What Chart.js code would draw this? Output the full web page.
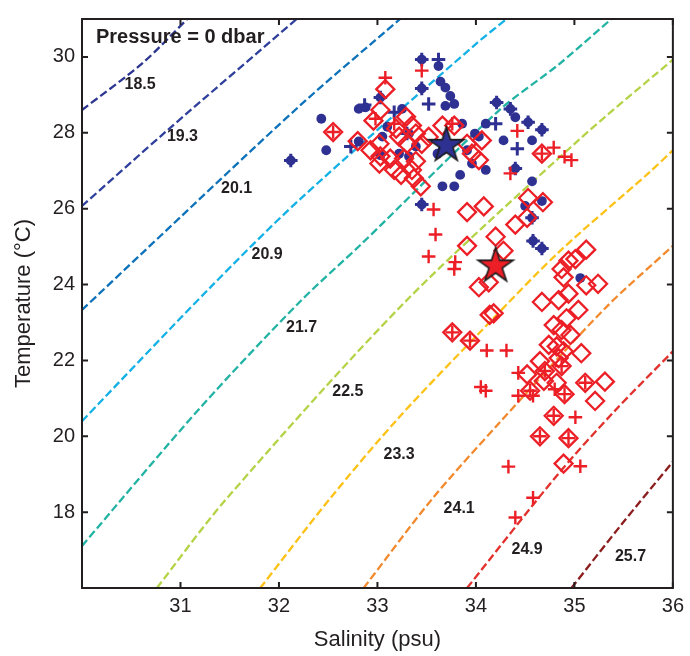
<!DOCTYPE html>
<html>
<head>
<meta charset="utf-8">
<script src="https://cdn.jsdelivr.net/npm/chart.js@4.4.1/dist/chart.umd.min.js"></script>
<style>
  html,body{margin:0;padding:0;background:#fff}
  canvas{display:block}
</style>
</head>
<body>
<canvas id="ts" width="690" height="656"></canvas>
<script>
/* T-S diagram, surface isopycnals + station samples */

/* ── Axis ticks ── */
const xTicks=[31,32,33,34,35,36];
const yTicks=[18,20,22,24,26,28,30];

/* ── Isopycnals (sigma-t) as [S,T] ── */
const sigmaLabels=['18.5','19.3','20.1','20.9','21.7','22.5','23.3','24.1','24.9','25.7'];
const sigmaColors=['#2b3590','#2f3f9c','#0d72ba','#14b1e6','#22b3a4','#b5d347','#fcc217','#f2892d','#e2302c','#8c1d1d'];
const sig185=[[30,28.6],[30.62,29.85],[31.07,31]];
const sig193=[[30,26.07],[30.86,28.05],[32.18,31]];
const sig201=[[30,23.33],[30.62,24.85],[32.21,28.71],[33.23,31]];
const sig209=[[30,20.4],[31.29,23.89],[32.21,26.24],[33.99,30.32],[34.31,31]];
const sig217=[[30,17.11],[31.2,20.75],[32.21,23.54],[32.85,25.1],[34.23,28.58],[34.84,29.8],[35.375,31]];
const sig225=[[30.76,16],[31.46,18.33],[33.28,23.54],[35.04,27.8],[36,29.93]];
const sig233=[[31.81,16],[32.51,18.33],[33.22,20.5],[34.1,22.9],[34.84,24.85],[35.75,26.93],[36,27.54]];
const sig241=[[32.86,16],[33.55,18.33],[34.23,20.33],[35.31,23.37],[36,25.02]];
const sig249=[[33.91,16],[34.84,19.02],[35.41,20.67],[36,22.24]];
const sig257=[[34.97,16],[35.48,17.68],[36,19.33]];
const isopycnals=[sig185,sig193,sig201,sig209,sig217,sig225,sig233,sig241,sig249,sig257];
const labelS=[30.59,31.02,31.57,31.88,32.23,32.70,33.22,33.83,34.52,35.57];
const labelT=[29.28,27.90,26.54,24.79,22.86,21.17,19.52,18.09,17.00,16.83];

/* ── Samples [S,T] ── */
const blueDots=[
  [33.62,29.76],[33.64,29.35],[33.69,29.19],[33.74,28.97],[33.69,28.71],[33.78,28.76],[32.81,28.63],[32.88,28.67],
  [33.25,28.63],[32.43,28.37],[32.48,27.54],[32.81,27.77],[33.05,27.90],[33.10,28.16],[33.32,27.98],[33.39,27.64],
  [33.61,27.45],[33.66,27.54],[33.86,28.24],[33.91,27.54],[33.99,27.98],[34.10,28.24],[34.03,27.90],[33.84,26.89],
  [33.66,26.59],[33.78,26.59],[34.10,27.02],[33.96,27.19],[34.28,27.80],[34.40,28.41],[34.57,27.80],[34.57,26.72],
  [34.50,26.07],[35.06,24.17],[34.67,26.20],[33.03,27.41],[33.22,27.45],[33.32,27.38],
  [33.45,29.93],[33.45,29.17],[33.03,28.93],[34.21,28.80],[34.35,28.63],[34.53,28.28],[34.67,28.08],[34.40,27.06],
  [33.45,26.11],[34.57,25.76],[34.58,25.15],[34.67,24.95],[32.12,27.27]
];
const blueCrosses=[
  [33.45,29.93],[33.62,29.93],[33.45,29.17],[33.52,28.76],[33.03,28.93],[32.87,28.73],[33.17,28.54],[33.30,27.98],
  [34.21,28.80],[34.35,28.63],[34.53,28.28],[34.67,28.08],[34.42,27.58],[34.20,28.24],[34.40,27.06],[33.45,26.11],
  [34.57,25.76],[34.58,25.15],[34.67,24.95],[32.12,27.27],[32.73,27.64]
];
const redCrosses=[
  [33.45,29.64],[33.08,29.45],[32.98,28.37],[33.76,28.24],[34.42,28.05],[34.79,27.61],[34.90,27.37],[34.97,27.28],
  [34.35,26.93],[33.57,25.98],[33.59,25.32],[33.52,24.74],[33.79,24.59],[33.78,24.41],[34.11,22.26],[34.31,22.26],
  [34.43,21.67],[34.05,21.30],[34.10,21.20],[34.43,21.07],[34.58,21.07],[34.80,21.24],[35.01,20.50],[34.33,19.20],
  [35.06,19.21],[34.58,18.38],[34.40,17.86],[32.55,28.02],[34.67,27.45],[33.76,22.74],[33.94,22.52],[34.70,21.72],
  [34.87,21.85],[34.55,21.20],[34.90,21.11],[35.11,21.41],[34.79,20.54],[34.65,20.00],[34.94,19.95],[33.17,28.24]
];
const redDiamonds=[
  [33.08,29.15],[33.03,28.60],[32.96,28.32],[32.55,28.02],[32.80,27.78],[32.93,27.54],[33.02,27.71],[33.03,27.38],
  [33.02,27.19],[33.13,27.32],[33.19,28.11],[33.22,27.90],[33.29,28.42],[33.35,28.19],[33.39,27.98],[33.30,27.71],
  [33.27,27.32],[33.17,27.02],[33.24,26.89],[33.35,27.02],[33.37,26.80],[33.44,26.59],[33.39,27.25],[33.45,27.71],
  [33.52,27.89],[33.66,28.19],[33.78,28.19],[33.91,27.71],[34.03,27.28],[33.96,27.45],[34.06,27.80],[34.67,27.45],
  [33.91,25.91],[34.08,26.06],[34.53,26.28],[34.68,26.17],[34.40,25.58],[34.52,25.76],[34.20,25.26],[33.91,25.02],
  [34.28,24.89],[34.03,23.93],[34.13,24.06],[34.14,23.20],[34.18,23.24],[33.76,22.74],[33.94,22.52],[34.87,24.41],
  [34.89,24.19],[34.94,24.63],[35.01,24.67],[35.12,24.92],[35.12,23.98],[35.24,24.02],[34.67,23.54],[34.84,23.59],
  [34.94,23.76],[35.04,23.33],[34.92,23.11],[34.79,22.93],[34.87,22.80],[34.96,22.67],[34.74,22.41],[34.82,22.37],
  [34.89,22.24],[35.07,22.19],[34.65,21.98],[34.70,21.72],[34.87,21.85],[34.84,22.06],[34.52,21.63],[34.69,21.46],
  [34.82,21.41],[34.55,21.20],[34.90,21.11],[35.11,21.41],[35.31,21.44],[35.21,20.93],[34.79,20.54],[34.65,20.00],
  [34.94,19.95],[34.89,19.28]
];
const blueStar=[[33.70,27.71]];
const redStar=[[34.20,24.53]];

/* ── Styling ── */
const FONT='"Liberation Sans", Arial, Helvetica, sans-serif';
const INK='#231f20';
const NAVY='#2e3192';
const RED='#ec1f27';
const xy=arr=>arr.map(p=>({x:p[0],y:p[1]}));

function starImage(fill){
  const c=document.createElement('canvas');
  c.width=c.height=42;
  const g=c.getContext('2d');
  g.beginPath();
  for(let i=0;i<10;i++){
    const r=i%2?7:18.5, a=-Math.PI/2+i*Math.PI/5;
    g.lineTo(21+r*Math.cos(a),22.5+r*Math.sin(a));
  }
  g.closePath();
  g.fillStyle=fill;g.fill();
  g.lineWidth=1.6;g.strokeStyle='#1b1b1b';g.stroke();
  return c;
}

/* labels, box and inward ticks */
const overlay={
  id:'overlay',
  afterDatasetsDraw(chart){
    const {ctx,chartArea:a,scales:{x,y}}=chart;
    ctx.save();
    ctx.fillStyle=INK;
    ctx.textAlign='center';ctx.textBaseline='middle';
    ctx.font='bold 16px '+FONT;
    sigmaLabels.forEach((t,i)=>ctx.fillText(t,x.getPixelForValue(labelS[i]),y.getPixelForValue(labelT[i])));
    ctx.textAlign='left';
    ctx.font='bold 20px '+FONT;
    ctx.fillText('Pressure = 0 dbar',a.left+14,a.top+18);

    ctx.strokeStyle=INK;ctx.lineWidth=2;
    ctx.strokeRect(a.left,a.top,a.right-a.left,a.bottom-a.top);
    ctx.beginPath();
    xTicks.forEach(v=>{
      const px=x.getPixelForValue(v);
      ctx.moveTo(px,a.bottom);ctx.lineTo(px,a.bottom-6);
      ctx.moveTo(px,a.top);ctx.lineTo(px,a.top+6);
    });
    yTicks.forEach(v=>{
      const py=y.getPixelForValue(v);
      ctx.moveTo(a.left,py);ctx.lineTo(a.left+6,py);
      ctx.moveTo(a.right,py);ctx.lineTo(a.right-6,py);
    });
    ctx.stroke();
    ctx.restore();
  }
};

const lineSets=isopycnals.map((pts,i)=>({
  label:sigmaLabels[i],data:xy(pts),showLine:true,
  borderColor:sigmaColors[i],borderWidth:2.3,borderDash:[8,3.5],
  pointRadius:0,tension:0.3,fill:false,order:10
}));

new Chart(document.getElementById('ts'),{
  type:'scatter',
  data:{datasets:[
    ...lineSets,
    {label:'blue',data:xy(blueDots),pointStyle:'circle',pointRadius:4.9,backgroundColor:NAVY,borderWidth:0,order:5},
    {label:'blue+',data:xy(blueCrosses),pointStyle:'cross',pointRadius:6.8,borderColor:NAVY,borderWidth:3,order:4},
    {label:'red◇',data:xy(redDiamonds),pointStyle:'rectRot',pointRadius:9,borderColor:RED,backgroundColor:'rgba(0,0,0,0)',borderWidth:2.3,order:3},
    {label:'red+',data:xy(redCrosses),pointStyle:'cross',pointRadius:6.8,borderColor:RED,borderWidth:2.4,order:2},
    {label:'star1',data:xy(blueStar),pointStyle:starImage(NAVY),order:1},
    {label:'star2',data:xy(redStar),pointStyle:starImage(RED),order:0}
  ]},
  options:{
    responsive:false,animation:false,devicePixelRatio:1,
    layout:{padding:{left:0,right:15,top:14,bottom:0}},
    plugins:{legend:{display:false},tooltip:{enabled:false}},
    scales:{
      x:{
        type:'linear',min:30,max:36,
        afterBuildTicks:s=>{s.ticks=xTicks.map(v=>({value:v}));},
        afterFit:s=>{s.height=68;},
        grid:{display:false,drawTicks:false},border:{display:false},
        ticks:{color:INK,padding:6,font:{family:FONT,size:20}},
        title:{display:true,text:'Salinity (psu)',color:INK,font:{family:FONT,size:22},padding:{top:0,bottom:3}}
      },
      y:{
        type:'linear',min:16,max:31,
        afterBuildTicks:s=>{s.ticks=yTicks.map(v=>({value:v}));},
        afterFit:s=>{s.width=82;},
        grid:{display:false,drawTicks:false},border:{display:false},
        ticks:{color:INK,padding:7,font:{family:FONT,size:20}},
        title:{display:true,text:'Temperature (°C)',color:INK,font:{family:FONT,size:22},padding:{top:11,bottom:0}}
      }
    }
  },
  plugins:[overlay]
});
</script>
</body>
</html>
